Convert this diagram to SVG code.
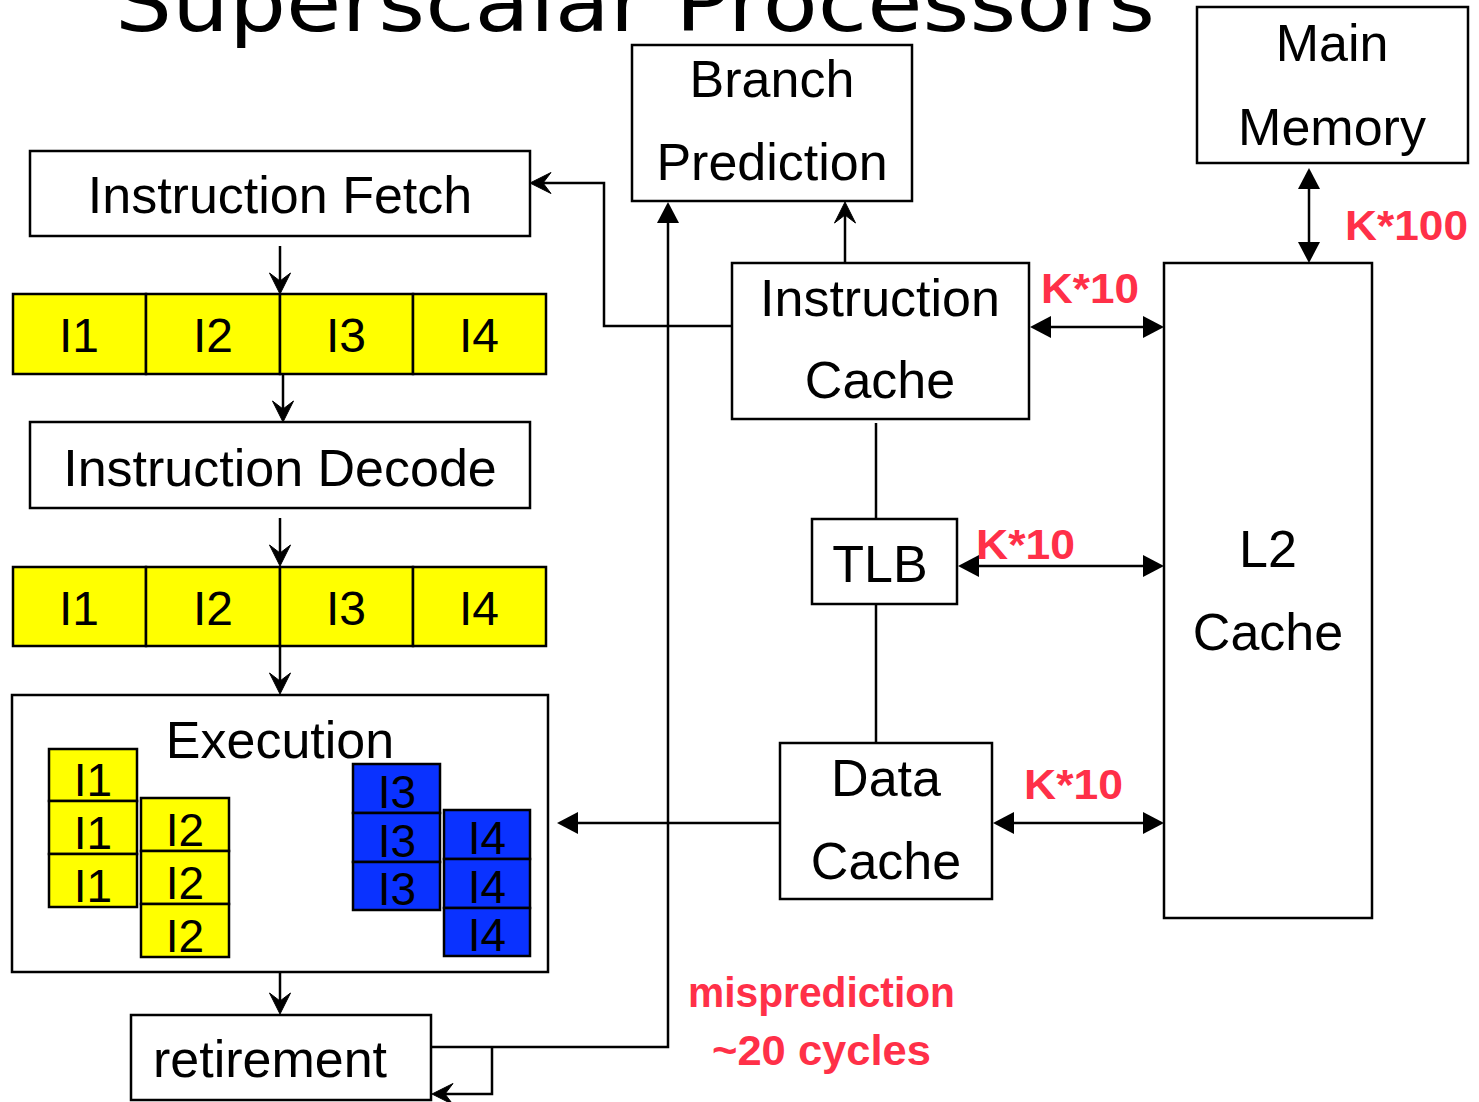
<svg xmlns="http://www.w3.org/2000/svg" width="1479" height="1102" viewBox="0 0 1479 1102">
  <style>
    .box { fill: #ffffff; stroke: #000000; stroke-width: 2.5; }
    .ycell { fill: #ffff00; stroke: #000000; stroke-width: 2.5; }
    .bcell { fill: #0a32ff; stroke: #000000; stroke-width: 2.5; }
    .lbl { font-family: "Liberation Sans", Arial, sans-serif; font-size: 52px; fill: #000000; text-anchor: middle; }
    .cell { font-family: "Liberation Sans", Arial, sans-serif; font-size: 48px; fill: #000000; text-anchor: middle; }
    .exc { font-family: "Liberation Sans", Arial, sans-serif; font-size: 46px; fill: #000000; text-anchor: middle; }
    .red { font-family: "Liberation Sans", Arial, sans-serif; font-weight: bold; font-size: 42px; fill: #ff3048; }
    .title { font-family: "DejaVu Sans", "Liberation Sans", sans-serif; font-size: 80px; fill: #000000; }
    .wire { fill: none; stroke: #000000; stroke-width: 2.5; }
  </style>
  <defs>
    <marker id="stealth" viewBox="-21 -11 21 22" refX="-8" refY="0" markerWidth="21" markerHeight="22" markerUnits="userSpaceOnUse" orient="auto-start-reverse" overflow="visible">
      <path d="M0,0 L-21,-10.5 L-13,0 L-21,10.5 Z" fill="#000000" stroke="#000000" stroke-width="1" stroke-linejoin="miter"/>
    </marker>
    <marker id="tri" viewBox="-21 -11 21 22" refX="-8" refY="0" markerWidth="21" markerHeight="22" markerUnits="userSpaceOnUse" orient="auto-start-reverse" overflow="visible">
      <path d="M0,0 L-21,-11 L-21,11 Z" fill="#000000"/>
    </marker>
  </defs>

  <!-- heading, partly above the top edge -->
  <text class="title" x="115" y="31" textLength="1040" lengthAdjust="spacingAndGlyphs">Superscalar Processors</text>

  <!-- connectors -->
  <g id="connectors">
    <line class="wire" x1="280" y1="246" x2="280" y2="286" marker-end="url(#stealth)"/>
    <line class="wire" x1="283" y1="374" x2="283" y2="414" marker-end="url(#stealth)"/>
    <line class="wire" x1="280" y1="518" x2="280" y2="558" marker-end="url(#stealth)"/>
    <line class="wire" x1="280" y1="646" x2="280" y2="686" marker-end="url(#stealth)"/>
    <line class="wire" x1="280" y1="967" x2="280" y2="1006" marker-end="url(#stealth)"/>
    <polyline class="wire" points="732,326 604,326 604,183 538,183" marker-end="url(#stealth)"/>
    <line class="wire" x1="845" y1="262" x2="845" y2="210" marker-end="url(#stealth)"/>
    <polyline class="wire" points="431,1047 668,1047 668,210" marker-end="url(#tri)"/>
    <polyline class="wire" points="492,1047 492,1094 440,1094" marker-end="url(#stealth)"/>
    <line class="wire" x1="779" y1="823" x2="565" y2="823" marker-end="url(#tri)"/>
    <line class="wire" x1="1038" y1="327" x2="1156" y2="327" marker-start="url(#tri)" marker-end="url(#tri)"/>
    <line class="wire" x1="966" y1="566" x2="1156" y2="566" marker-start="url(#tri)" marker-end="url(#tri)"/>
    <line class="wire" x1="1001" y1="823" x2="1156" y2="823" marker-start="url(#tri)" marker-end="url(#tri)"/>
    <line class="wire" x1="1309" y1="176" x2="1309" y2="255" marker-start="url(#tri)" marker-end="url(#tri)"/>
    <line class="wire" x1="876" y1="423" x2="876" y2="518"/>
    <line class="wire" x1="876" y1="605" x2="876" y2="742"/>
  </g>

  <g id="main-memory">
    <rect class="box" x="1197" y="7" width="271" height="156"/>
    <text class="lbl" x="1332" y="61">Main</text>
    <text class="lbl" x="1332" y="145">Memory</text>
  </g>

  <g id="branch-prediction">
    <rect class="box" x="632" y="45" width="280" height="156"/>
    <text class="lbl" x="772" y="97">Branch</text>
    <text class="lbl" x="772" y="180">Prediction</text>
  </g>

  <g id="instruction-fetch">
    <rect class="box" x="30" y="151" width="500" height="85"/>
    <text class="lbl" x="280" y="213">Instruction Fetch</text>
  </g>

  <g id="fetch-queue">
    <rect class="ycell" x="13" y="294" width="133" height="80"/>
    <rect class="ycell" x="146" y="294" width="134" height="80"/>
    <rect class="ycell" x="280" y="294" width="133" height="80"/>
    <rect class="ycell" x="413" y="294" width="133" height="80"/>
    <text class="cell" x="79" y="352">I1</text>
    <text class="cell" x="213" y="352">I2</text>
    <text class="cell" x="346" y="352">I3</text>
    <text class="cell" x="479" y="352">I4</text>
  </g>

  <g id="instruction-decode">
    <rect class="box" x="30" y="422" width="500" height="86"/>
    <text class="lbl" x="280" y="486">Instruction Decode</text>
  </g>

  <g id="decode-queue">
    <rect class="ycell" x="13" y="567" width="133" height="79"/>
    <rect class="ycell" x="146" y="567" width="134" height="79"/>
    <rect class="ycell" x="280" y="567" width="133" height="79"/>
    <rect class="ycell" x="413" y="567" width="133" height="79"/>
    <text class="cell" x="79" y="625">I1</text>
    <text class="cell" x="213" y="625">I2</text>
    <text class="cell" x="346" y="625">I3</text>
    <text class="cell" x="479" y="625">I4</text>
  </g>

  <g id="execution">
    <rect class="box" x="12" y="695" width="536" height="277"/>
    <text class="lbl" x="280" y="758">Execution</text>
    <!-- I1 column -->
    <rect class="ycell" x="49" y="749" width="88" height="52"/>
    <rect class="ycell" x="49" y="801" width="88" height="53"/>
    <rect class="ycell" x="49" y="854" width="88" height="53"/>
    <text class="exc" x="93" y="796">I1</text>
    <text class="exc" x="93" y="849">I1</text>
    <text class="exc" x="93" y="902">I1</text>
    <!-- I2 column -->
    <rect class="ycell" x="141" y="798" width="88" height="53"/>
    <rect class="ycell" x="141" y="851" width="88" height="53"/>
    <rect class="ycell" x="141" y="904" width="88" height="53"/>
    <text class="exc" x="185" y="846">I2</text>
    <text class="exc" x="185" y="899">I2</text>
    <text class="exc" x="185" y="952">I2</text>
    <!-- I3 column -->
    <rect class="bcell" x="353" y="764" width="87" height="49"/>
    <rect class="bcell" x="353" y="813" width="87" height="49"/>
    <rect class="bcell" x="353" y="862" width="87" height="48"/>
    <text class="exc" x="397" y="808">I3</text>
    <text class="exc" x="397" y="857">I3</text>
    <text class="exc" x="397" y="905">I3</text>
    <!-- I4 column -->
    <rect class="bcell" x="444" y="810" width="86" height="49"/>
    <rect class="bcell" x="444" y="859" width="86" height="49"/>
    <rect class="bcell" x="444" y="908" width="86" height="48"/>
    <text class="exc" x="487" y="854">I4</text>
    <text class="exc" x="487" y="903">I4</text>
    <text class="exc" x="487" y="951">I4</text>
  </g>

  <g id="retirement">
    <rect class="box" x="131" y="1015" width="300" height="85"/>
    <text class="lbl" x="270" y="1077">retirement</text>
  </g>

  <g id="instruction-cache">
    <rect class="box" x="732" y="263" width="297" height="156"/>
    <text class="lbl" x="880" y="316">Instruction</text>
    <text class="lbl" x="880" y="398">Cache</text>
  </g>

  <g id="tlb">
    <rect class="box" x="812" y="519" width="145" height="85"/>
    <text class="lbl" x="880" y="582">TLB</text>
  </g>

  <g id="data-cache">
    <rect class="box" x="780" y="743" width="212" height="156"/>
    <text class="lbl" x="886" y="796">Data</text>
    <text class="lbl" x="886" y="879">Cache</text>
  </g>

  <g id="l2-cache">
    <rect class="box" x="1164" y="263" width="208" height="655"/>
    <text class="lbl" x="1268" y="567">L2</text>
    <text class="lbl" x="1268" y="650">Cache</text>
  </g>

  <!-- latency notes -->
  <g id="latency-labels">
    <text class="red" x="1041" y="303" textLength="98" lengthAdjust="spacingAndGlyphs">K*10</text>
    <text class="red" x="976" y="559" textLength="99" lengthAdjust="spacingAndGlyphs">K*10</text>
    <text class="red" x="1024" y="799" textLength="99" lengthAdjust="spacingAndGlyphs">K*10</text>
    <text class="red" x="1345" y="240" textLength="123" lengthAdjust="spacingAndGlyphs">K*100</text>
    <text class="red" x="688" y="1007" textLength="267" lengthAdjust="spacingAndGlyphs">misprediction</text>
    <text class="red" x="712" y="1065" textLength="219" lengthAdjust="spacingAndGlyphs">~20 cycles</text>
  </g>
</svg>
